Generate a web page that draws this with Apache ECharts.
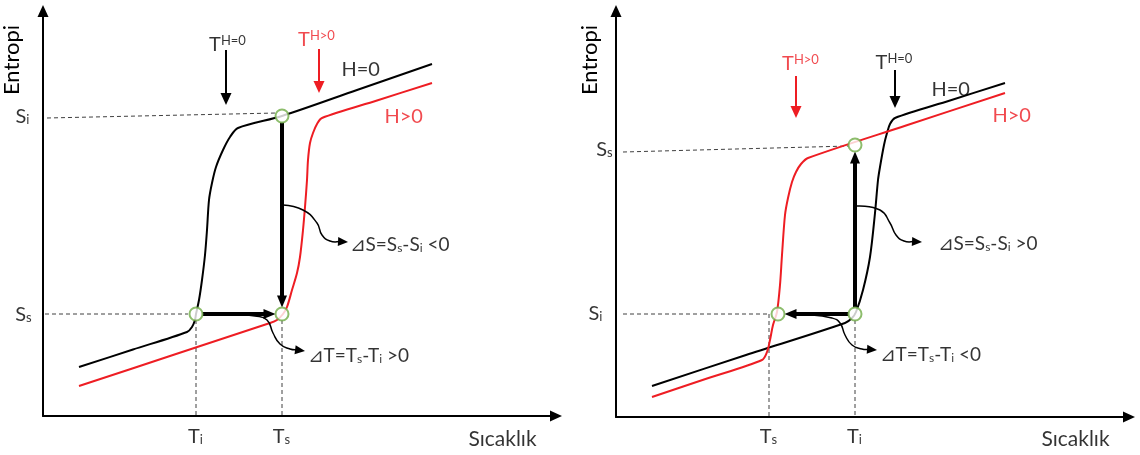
<!DOCTYPE html>
<html>
<head>
<meta charset="utf-8">
<script src="https://cdn.jsdelivr.net/npm/echarts@6/dist/echarts.min.js"></script>
<style>
html,body{margin:0;padding:0;background:#fff}
#chart{width:1140px;height:455px}
</style>
</head>
<body>
<div id="chart"></div>
<script>
// Entropy (S) versus temperature (T) across a first-order transition,
// without field (H=0) and with field (H>0). Units are arbitrary.

// ---- left panel: field applied, upper branch -> lower branch ----
const leftZeroField = [[3.6,4.9],[9.0,6.65],[14.4,8.4],[14.9,8.9],[15.2,9.6],[15.3,10.2],[15.6,11.6],[15.9,13.6],[16.2,16.1],[16.4,18.6],[16.6,21.6],[16.9,23.3],[17.3,24.9],[18.0,26.6],[18.7,27.9],[19.5,28.8],[23.9,30.0],[31.4,32.6],[38.9,35.2]];
const leftField = [[3.6,3.0],[13.0,6.1],[22.7,9.3],[23.4,9.6],[24.0,10.2],[24.4,10.9],[24.9,12.6],[25.4,14.3],[25.7,15.9],[26.0,18.6],[26.2,20.9],[26.4,23.6],[26.5,25.6],[26.7,27.3],[27.0,28.3],[27.4,29.2],[27.9,29.8],[33.4,31.55],[38.9,33.3]];
const leftStates = [[15.3,10.2],[23.9,10.2],[23.9,30.0]];
const leftSteps = [[[15.3,10.2],[23.9,10.2]], [[23.9,30.0],[23.9,10.2]]];
const leftTemp = {i:15.3, s:23.9};
const leftEntropy = {i:29.9, s:10.1};
const leftGuides = [[[0.4,29.8],[23.4,30.3]], [[0.2,10.2],[14.5,10.2]], [[15.3,9.6],[15.3,0]], [[23.9,9.6],[23.9,0]]];
const leftMarkZero = [[18.3,36.6],[18.3,31.1]];
const leftMarkField = [[27.6,36.7],[27.6,32.3]];
const leftLeaderS = [[24.0,21.1],[26.0,20.6],[27.4,19.3],[27.9,18.1],[28.7,17.5],[30.5,17.4]];
const leftLeaderT = [[19.7,10.1],[21.2,10.0],[22.4,9.6],[23.0,8.3],[23.7,7.2],[24.7,6.7],[26.2,6.5]];

// ---- right panel: field applied, lower branch -> upper branch ----
const rightZeroField = [[3.6,3.1],[13.0,6.2],[22.9,9.4],[23.6,9.9],[24.0,10.5],[24.7,12.7],[25.4,16.0],[25.9,20.4],[26.2,23.7],[26.4,25.0],[26.8,27.2],[27.1,28.4],[27.4,29.3],[27.9,29.9],[33.4,31.65],[38.9,33.4]];
const rightField = [[3.6,2.0],[9.1,3.85],[14.6,5.7],[15.1,6.5],[15.4,7.7],[15.7,9.2],[16.1,10.5],[16.4,13.2],[16.6,16.2],[16.9,20.2],[17.2,21.9],[17.6,23.5],[18.0,24.5],[18.5,25.3],[19.2,25.9],[29.0,29.15],[38.9,32.4]];
const rightStates = [[16.2,10.3],[23.9,10.3],[23.9,27.2]];
const rightSteps = [[[23.9,10.3],[16.2,10.3]], [[23.9,10.3],[23.9,27.2]]];
const rightTemp = {s:15.3, i:23.9};
const rightEntropy = {s:26.7, i:10.3};
const rightGuides = [[[0.7,26.5],[23.3,27.1]], [[0.7,10.3],[15.3,10.3]], [[15.3,10.3],[15.3,0]], [[23.9,9.7],[23.9,0]]];
const rightMarkField = [[18.0,34.1],[18.0,29.9]];
const rightMarkZero = [[27.9,34.7],[27.9,30.9]];
const rightLeaderS = [[24.1,21.1],[26.4,20.7],[27.4,19.4],[28.0,18.2],[28.8,17.6],[30.6,17.5]];
const rightLeaderT = [[19.6,10.2],[21.6,9.9],[22.4,9.4],[22.9,8.2],[23.6,7.2],[24.6,6.8],[26.1,6.7]];

const axisTitles = {temperature:'Sıcaklık', entropy:'Entropi'};

// ---- styling ----
const F = 'Lato, "Open Sans", sans-serif';
const RED = '#EE1D23';
const GREEN = '#70AD47';
const RICH = {
  b:{fontSize:20, fontFamily:F},
  sub:{fontSize:13, fontFamily:F, verticalAlign:'bottom'},
  t:{fontSize:20, fontFamily:F},
  sup:{fontSize:13, fontFamily:F, verticalAlign:'top'},
  d:{fontSize:19, fontFamily:F},
  ds:{fontSize:12, fontFamily:F, verticalAlign:'bottom'}
};

const axisBase = {
  type:'value', min:0,
  axisLine:{show:true, onZero:false, symbol:['none','triangle'], symbolSize:[11,12], lineStyle:{color:'#000', width:2}},
  axisTick:{show:false}, axisLabel:{show:false}, splitLine:{show:false}
};

function curve(gi, data, color) {
  return {type:'line', xAxisIndex:gi, yAxisIndex:gi, data:data, showSymbol:false, smooth:0.3,
    lineStyle:{color:color, width:2}, z:3, silent:true};
}
function guide(gi, data) {
  return {type:'line', xAxisIndex:gi, yAxisIndex:gi, data:data, showSymbol:false,
    lineStyle:{color:'#404040', width:1, type:[4,3]}, z:2, silent:true};
}
function states(gi, data) {
  return {type:'scatter', xAxisIndex:gi, yAxisIndex:gi, data:data, symbol:'circle', symbolSize:13,
    itemStyle:{color:'#fff', borderColor:GREEN, borderWidth:2}, z:10, silent:true};
}
function moveToward(a, b, d) {
  const dx = b[0]-a[0], dy = b[1]-a[1], l = Math.hypot(dx, dy);
  return [a[0]+dx/l*d, a[1]+dy/l*d];
}
// Polyline ending in a filled triangular head; points go through the axes via api.coord.
function arrow(gi, pts, o) {
  return {
    type:'custom', xAxisIndex:gi, yAxisIndex:gi, clip:false, silent:true, z:o.z || 6,
    data:pts, encode:{x:0, y:1},
    renderItem:function(params, api) {
      if (params.dataIndex !== 0) return null;
      const p = pts.map(function(q){ return api.coord(q); });
      const n = p.length;
      if (o.gap) {
        const a = moveToward(p[0], p[1], o.gap);
        const b = moveToward(p[n-1], p[n-2], o.gap);
        p[0] = a; p[n-1] = b;
      }
      const tip = p[n-1], prev = p[n-2];
      let dx = tip[0]-prev[0], dy = tip[1]-prev[1];
      const len = Math.hypot(dx, dy); dx /= len; dy /= len;
      const base = [tip[0]-dx*o.head[0], tip[1]-dy*o.head[0]];
      const h = o.head[1]/2;
      const l = [base[0]-dy*h, base[1]+dx*h], r = [base[0]+dy*h, base[1]-dx*h];
      const linePts = p.slice(0, n-1).concat([[base[0]+dx, base[1]+dy]]);
      return {type:'group', children:[
        {type:'polyline', shape:{points:linePts, smooth:o.smooth || 0}, style:{stroke:o.color, lineWidth:o.width, fill:null}},
        {type:'polygon', shape:{points:[tip, l, r]}, style:{fill:o.color}}
      ]};
    }
  };
}
function texts(gi, items) {
  return {
    type:'scatter', xAxisIndex:gi, yAxisIndex:gi, clip:false, silent:true, z:20,
    symbolSize:1, itemStyle:{color:'rgba(0,0,0,0)'},
    data:items.map(function(it){
      return {value:it.at, label:{show:true, position:[0,0], distance:0, formatter:it.text,
        align:it.align || 'center', verticalAlign:'middle', color:it.color || '#000',
        fontFamily:F, fontSize:it.size || 20, rich:RICH}};
    })
  };
}

const thick = {color:'#000', width:4, head:[12,10], gap:6.5, z:7};
const leader = {color:'#000', width:1.5, head:[10,9], smooth:0.5};
const marker = {width:2, head:[12,11]};

const series = [];
// left panel
leftGuides.forEach(function(g){ series.push(guide(0, g)); });
series.push(curve(0, leftZeroField, '#000'), curve(0, leftField, RED));
leftSteps.forEach(function(s){ series.push(arrow(0, s, thick)); });
series.push(arrow(0, leftLeaderS, leader), arrow(0, leftLeaderT, leader));
series.push(arrow(0, leftMarkZero, Object.assign({color:'#000'}, marker)));
series.push(arrow(0, leftMarkField, Object.assign({color:RED}, marker)));
series.push(states(0, leftStates));
series.push(texts(0, [
  {text:axisTitles.temperature, at:[46.0,-2.4], size:21},
  {text:'{b|S}{sub|i}', at:[-2.0, leftEntropy.i]},
  {text:'{b|S}{sub|s}', at:[-1.9, leftEntropy.s]},
  {text:'{b|T}{sub|i}', at:[leftTemp.i, -2.1]},
  {text:'{b|T}{sub|s}', at:[leftTemp.s, -2.1]},
  {text:'{t|T}{sup|H=0}', at:[18.5,37.1]},
  {text:'{t|T}{sup|H>0}', at:[27.4,37.6], color:RED},
  {text:'H=0', at:[29.9,34.6], align:'left'},
  {text:'H>0', at:[34.2,29.9], align:'left', color:RED},
  {text:'{d|⊿S=S}{ds|s}{d|-S}{ds|i}{d| <0}', at:[30.7,17.1], align:'left'},
  {text:'{d|⊿T=T}{ds|s}{d|-T}{ds|i}{d| >0}', at:[26.5,6.0], align:'left'}
]));
// right panel
rightGuides.forEach(function(g){ series.push(guide(1, g)); });
series.push(curve(1, rightZeroField, '#000'), curve(1, rightField, RED));
rightSteps.forEach(function(s){ series.push(arrow(1, s, thick)); });
series.push(arrow(1, rightLeaderS, leader), arrow(1, rightLeaderT, leader));
series.push(arrow(1, rightMarkField, Object.assign({color:RED}, marker)));
series.push(arrow(1, rightMarkZero, Object.assign({color:'#000'}, marker)));
series.push(states(1, rightStates));
series.push(texts(1, [
  {text:axisTitles.temperature, at:[46.0,-2.3], size:21},
  {text:'{b|S}{sub|s}', at:[-1.1, rightEntropy.s]},
  {text:'{b|S}{sub|i}', at:[-2.0, rightEntropy.i]},
  {text:'{b|T}{sub|s}', at:[rightTemp.s, -2.0]},
  {text:'{b|T}{sub|i}', at:[rightTemp.i, -2.0]},
  {text:'{t|T}{sup|H>0}', at:[18.5,35.3], color:RED},
  {text:'{t|T}{sup|H=0}', at:[27.85,35.4]},
  {text:'H=0', at:[31.6,32.7], align:'left'},
  {text:'H>0', at:[37.7,30.1], align:'left', color:RED},
  {text:'{d|⊿S=S}{ds|s}{d|-S}{ds|i}{d| >0}', at:[32.2,17.3], align:'left'},
  {text:'{d|⊿T=T}{ds|s}{d|-T}{ds|i}{d| <0}', at:[26.4,6.2], align:'left'}
]));

const chart = echarts.init(document.getElementById('chart'));
chart.setOption({
  animation:false,
  backgroundColor:'#fff',
  grid:[{left:43, top:11, width:513, height:405}, {left:616, top:11, width:513, height:406}],
  xAxis:[Object.assign({gridIndex:0, max:51.3}, axisBase), Object.assign({gridIndex:1, max:51.3}, axisBase)],
  yAxis:[Object.assign({gridIndex:0, max:40.5}, axisBase), Object.assign({gridIndex:1, max:40.6}, axisBase)],
  series:series
});

// Vertical entropy titles, placed beside each y axis through the grid's own mapping.
const titleAnchors = [[0, [-3.1, 35.6]], [1, [-2.6, 35.7]]];
chart.setOption({
  graphic:titleAnchors.map(function(a){
    const p = chart.convertToPixel({gridIndex:a[0]}, a[1]);
    return {type:'text', x:p[0], y:p[1], rotation:Math.PI/2, silent:true, z:20,
      style:{text:axisTitles.entropy, fill:'#000', fontSize:22, fontFamily:F,
        align:'center', verticalAlign:'middle', textAlign:'center', textVerticalAlign:'middle'}};
  })
});
</script>
</body>
</html>
